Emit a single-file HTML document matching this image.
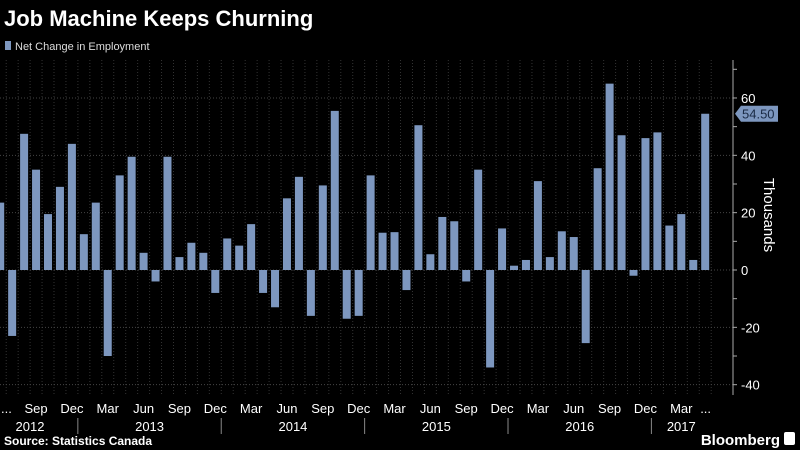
<!DOCTYPE html>
<html><head><meta charset="utf-8"><style>
body{margin:0;background:#000;width:800px;height:450px;overflow:hidden;font-family:"Liberation Sans",sans-serif}
</style></head><body>
<svg width="800" height="450" id="c" style="position:absolute;left:0;top:0">
<text x="4" y="26" fill="#fff" font-size="22" font-weight="bold">Job Machine Keeps Churning</text>
<rect x="5" y="41" width="6" height="9" fill="#7d97bf"/>
<text x="15" y="50" fill="#ddd" font-size="11">Net Change in Employment</text>
<text x="4" y="445" fill="#fff" font-size="12" font-weight="bold">Source: Statistics Canada</text>
<text x="780" y="445" fill="#fff" font-size="15" text-anchor="end" font-weight="bold">Bloomberg</text>
<rect x="784" y="432" width="11" height="13" rx="2" fill="#fff"/>
<text x="764" y="215" fill="#fff" font-size="15" text-anchor="middle" transform="rotate(90 764 215)">Thousands</text>
<g id="grid"></g><g id="bars"></g><g id="axis"></g>
</svg>
<script>
const values=[23.5,-23,47.5,35,19.5,29,44,12.5,23.5,-30,33,39.5,6,-4,39.5,4.5,9.5,6,-8,11,8.5,16,-8,-13,25,32.5,-16,29.5,55.5,-17,-16,33,13,13.2,-7,50.5,5.5,18.5,17,-4,35,-34,14.5,1.5,3.5,31,4.5,13.5,11.5,-25.5,35.5,65,47,-2,46,48,15.5,19.5,3.5,54.5];
const startYear=2012, startMonth=5; // Jun 2012 (0-based)
const yTicks=[-40,-20,0,20,40,60];
const monthNames=["Jan","Feb","Mar","Apr","May","Jun","Jul","Aug","Sep","Oct","Nov","Dec"];
const NS="http://www.w3.org/2000/svg";
const step=705/(values.length-1);
function X(i){return 0.2+i*step;}
function Y(v){return 270-v*2.867;}
function mk(t,a,p){const e=document.createElementNS(NS,t);for(const k in a)e.setAttribute(k,a[k]);p.appendChild(e);return e;}
const grid=document.getElementById('grid'),bars=document.getElementById('bars'),axis=document.getElementById('axis');
for(let i=0;i<values.length;i++){
  const l=mk('line',{x1:X(i)+6,x2:X(i)+6,y1:60,y2:395,stroke:'#333','stroke-dasharray':'1,2'},grid);
  
  
}
yTicks.forEach(t=>{
  const l=mk('line',{x1:0,x2:733,y1:Y(t),y2:Y(t),stroke:'#444','stroke-dasharray':'1,2'},grid);
  
  
  const tx=mk('text',{x:741,y:Y(t)+5,fill:'#fff','font-size':13},axis);tx.textContent=t;
  
  
});
for(let v=-40;v<=70;v+=10){mk('line',{x1:733,x2:737,y1:Y(v),y2:Y(v),stroke:'#aaa'},axis);}
const ax=mk('line',{x1:733,x2:733,y1:60,y2:395,stroke:'#aaa'},axis);


values.forEach((v,i)=>{
  const r=mk('rect',{x:X(i)-4,width:8,y:Math.min(Y(v),Y(0)),height:Math.abs(Y(v)-Y(0)),fill:'#7d97bf'},bars);
  
  
  const m=(startMonth+i)%12;
  if(i>0&&m%3===2){const t=mk('text',{x:X(i),y:413,fill:'#fff','font-size':13,'text-anchor':'middle'},axis);t.textContent=monthNames[m];
    
    }
});
const e1=mk('text',{x:1,y:413,fill:'#fff','font-size':13},axis);e1.textContent='...';
const e2=mk('text',{x:X(values.length-1)-5,y:413,fill:'#fff','font-size':13},axis);e2.textContent='...';
let y0=0;
for(let i=0;i<=values.length;i++){
  const m=(startMonth+i)%12;
  if(i===values.length||(m===0&&i>0)){
    const yr=startYear+Math.floor((startMonth+i-1)/12);
    const cx=y0===0?30:(X(y0)+X(i-1))/2;
    const t=mk('text',{x:cx,y:431,fill:'#fff','font-size':13,'text-anchor':'middle'},axis);t.textContent=yr;
    
    
    if(i<values.length)mk('line',{x1:X(i)-6,x2:X(i)-6,y1:418,y2:434,stroke:'#888'},axis);
    y0=i;
  }
}
const last=values[values.length-1];
const lab=mk('path',{d:`M735 ${Y(last)} l6 -8 h37 v16 h-37 z`,fill:'#7d97bf'},axis);


const lt=mk('text',{x:742,y:Y(last)+5,fill:'#1a2a44','font-size':13},axis);lt.textContent=last.toFixed(2);


</script>
</body></html>
